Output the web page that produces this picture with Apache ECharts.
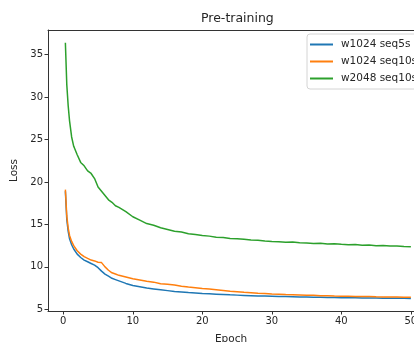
<!DOCTYPE html>
<html>
<head>
<meta charset="utf-8">
<script src="https://cdn.jsdelivr.net/npm/echarts@6/dist/echarts.min.js"></script>
<style>
  html, body { margin: 0; padding: 0; background: #fff; }
  #chart { width: 414px; height: 342px; }
</style>
</head>
<body>
<div id="chart"></div>
<script>
// epochs at which the losses were logged (dense at the start)
const epochs = [0.3, 0.5, 0.7, 0.9, 1.2, 1.5, 2, 2.5, 3, 3.5, 4, 4.5, 5, 5.5, 6, 6.5, 7, 7.5, 8,
  9, 10, 11, 12, 13, 14, 15, 16, 17, 18, 19, 20, 21, 22, 23, 24, 25, 26, 27, 28, 29, 30,
  31, 32, 33, 34, 35, 36, 37, 38, 39, 40, 41, 42, 43, 44, 45, 46, 47, 48, 49, 50];

const lossW1024Seq5 = [18.9, 15.6, 14.2, 13.3, 12.6, 12.1, 11.5, 11.1, 10.8, 10.6, 10.4, 10.2, 9.9, 9.5,
  9.15, 8.9, 8.65, 8.5, 8.35, 8.05, 7.8, 7.65, 7.5, 7.4, 7.3, 7.2, 7.1, 7.05, 6.98, 6.92, 6.86,
  6.82, 6.78, 6.74, 6.7, 6.67, 6.64, 6.61, 6.58, 6.56, 6.54, 6.52, 6.5, 6.48, 6.46, 6.44, 6.42,
  6.41, 6.4, 6.39, 6.37, 6.36, 6.35, 6.34, 6.33, 6.32, 6.31, 6.3, 6.3, 6.29, 6.28];

const lossW1024Seq10 = [19.1, 16.0, 14.6, 13.7, 13.0, 12.5, 11.9, 11.5, 11.2, 11.0, 10.8, 10.7, 10.55, 10.5,
  10.0, 9.6, 9.3, 9.15, 9.0, 8.8, 8.6, 8.45, 8.3, 8.2, 8.0, 7.95, 7.85, 7.72, 7.62, 7.55, 7.45,
  7.38, 7.3, 7.22, 7.12, 7.06, 7.0, 6.96, 6.9, 6.86, 6.8, 6.77, 6.74, 6.72, 6.69, 6.66, 6.65,
  6.61, 6.6, 6.57, 6.55, 6.55, 6.51, 6.5, 6.5, 6.47, 6.46, 6.45, 6.45, 6.42, 6.41];

const lossW2048Seq10 = [36.4, 31.5, 29.0, 27.2, 25.3, 24.2, 23.2, 22.3, 21.9, 21.3, 21.0, 20.4, 19.4, 18.9,
  18.4, 17.9, 17.6, 17.2, 17.0, 16.5, 15.9, 15.5, 15.1, 14.9, 14.6, 14.4, 14.2, 14.1, 13.9, 13.8,
  13.7, 13.62, 13.5, 13.46, 13.35, 13.32, 13.25, 13.15, 13.12, 13.05, 13.0, 12.96, 12.9, 12.92,
  12.84, 12.8, 12.76, 12.77, 12.7, 12.72, 12.65, 12.6, 12.63, 12.55, 12.57, 12.5, 12.52, 12.45,
  12.47, 12.4, 12.36];

const seriesNames = ["w1024 seq5s", "w1024 seq10s", "w2048 seq10s"];
const seriesColors = ["#1f77b4", "#ff7f0e", "#2ca02c"];
const xTicks = [0, 10, 20, 30, 40, 50];
const yTicks = [5, 10, 15, 20, 25, 30, 35];

const font = "DejaVu Sans";
const ink = "#262626";

const chart = echarts.init(document.getElementById("chart"));

function lineSeries(name, values, color) {
  return {
    name: name,
    type: "line",
    data: epochs.map((e, i) => [e, values[i]]),
    showSymbol: false,
    lineStyle: { color: color, width: 1.5 },
    itemStyle: { color: color },
  };
}

chart.setOption({
  animation: false,
  textStyle: { fontFamily: font },
  title: {
    text: "Pre-training",
    left: 201,
    top: 12,
    padding: 0,
    textStyle: { fontSize: 12.5, fontWeight: "normal", color: ink, fontFamily: font },
  },
  legend: {
    orient: "vertical",
    left: 307,
    top: 34,
    padding: [5, 40, 5, 3],
    itemGap: 6,
    itemWidth: 23,
    itemHeight: 2,
    icon: "rect",
    backgroundColor: "#fff",
    borderColor: "#d4d4d4",
    borderWidth: 1,
    borderRadius: 3,
    textStyle: { fontSize: 10.5, color: ink, fontFamily: font, padding: [0, 0, 0, 3] },
    data: seriesNames,
  },
  grid: {
    left: 48,
    top: 30,
    right: 0,
    bottom: 31,
    outerBoundsMode: "none",
    containLabel: false,
  },
  xAxis: [
    {
      type: "value",
      min: -2.2,
      max: 50.45,
      name: "Epoch",
      nameLocation: "middle",
      nameGap: 23,
      nameTextStyle: { fontSize: 10.5, color: ink, fontFamily: font },
      axisLine: { show: true, onZero: false, lineStyle: { color: "#333", width: 1 } },
      axisTick: { show: true, length: 3.5, customValues: xTicks, lineStyle: { color: "#333" } },
      axisLabel: { customValues: xTicks, fontSize: 10, color: ink, margin: 5, fontFamily: font },
      splitLine: { show: false },
    },
    {
      // top spine only
      type: "value",
      position: "top",
      min: -2.2,
      max: 50.45,
      axisLine: { show: true, onZero: false, lineStyle: { color: "#333", width: 1 } },
      axisTick: { show: false },
      axisLabel: { show: false },
      splitLine: { show: false },
    },
  ],
  yAxis: {
    type: "value",
    min: 4.8,
    max: 37.9,
    name: "Loss",
    nameLocation: "middle",
    nameGap: 23,
    nameTextStyle: { fontSize: 10.5, color: ink, fontFamily: font },
    axisLine: { show: true, onZero: false, lineStyle: { color: "#333", width: 1 } },
    axisTick: { show: true, length: 3.5, customValues: yTicks, lineStyle: { color: "#333" } },
    axisLabel: { customValues: yTicks, fontSize: 10, color: ink, margin: 5, fontFamily: font },
    splitLine: { show: false },
  },
  series: [
    lineSeries(seriesNames[0], lossW1024Seq5, seriesColors[0]),
    lineSeries(seriesNames[1], lossW1024Seq10, seriesColors[1]),
    lineSeries(seriesNames[2], lossW2048Seq10, seriesColors[2]),
  ],
});
</script>
</body>
</html>
